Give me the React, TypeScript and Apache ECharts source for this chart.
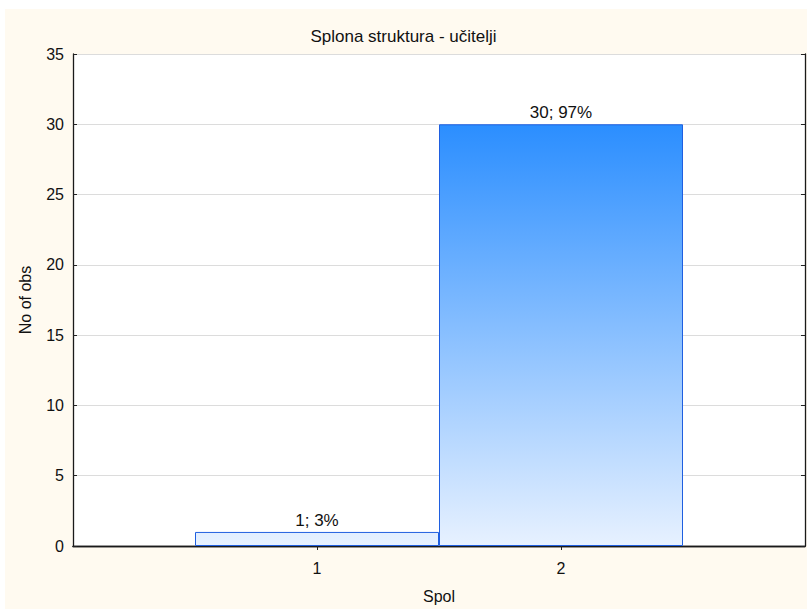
import React, { useEffect, useRef } from "react";
import * as echarts from "echarts";

const title = "Splona struktura - učitelji";
const categories = ["1", "2"];
const counts = [1, 30];
const percents = [3, 97];
const yTicks = [0, 5, 10, 15, 20, 25, 30, 35];
const xAxisName = "Spol";
const yAxisName = "No of obs";

const TOP = [43, 142, 255];
const BOTTOM = [231, 241, 255];

function mix(t: number) {
  const c = BOTTOM.map((b, i) => Math.round(b + (TOP[i] - b) * t));
  return `rgb(${c[0]},${c[1]},${c[2]})`;
}

export default function App() {
  const ref = useRef<HTMLDivElement>(null);
  useEffect(() => {
    if (!ref.current) return;
    const chart = echarts.init(ref.current, undefined, { renderer: "svg" });
    const axisCats = ["", ...categories, ""];
    const maxV = Math.max(...counts);
    const barData: any[] = ["-"];
    counts.forEach((v, i) => {
      barData.push({
        value: v,
        itemStyle: {
          color: new echarts.graphic.LinearGradient(0, 0, 0, 1, [
            { offset: 0, color: mix(v / maxV) },
            { offset: 1, color: mix(0) },
          ]),
        },
        label: { formatter: `${v}; ${percents[i]}%` },
      });
    });
    barData.push("-");
    const font = "'Liberation Sans', Arial, sans-serif";
    const fs = 16;
    const fsBig = 17;
    const axisLine = { show: true, lineStyle: { color: "#1a1a1a", width: 1.3 } };
    const tick = { show: true, inside: true, length: 4, lineStyle: { color: "#222" } };
    const showInner = (i: number) => i > 0 && i < axisCats.length - 1;
    chart.setOption({
      animation: false,
      backgroundColor: "transparent",
      textStyle: { fontFamily: font },
      graphic: [
        {
          type: "rect",
          z: -10,
          silent: true,
          shape: { x: 5, y: 9, width: 810, height: 610 },
          style: { fill: "#FFFAF0" },
        },
      ],
      title: {
        text: title,
        left: "center",
        top: 23,
        textStyle: { fontSize: fsBig, fontWeight: "normal", color: "#111", fontFamily: font },
      },
      grid: {
        left: 73,
        top: 54,
        width: 732,
        height: 496,
        show: true,
        backgroundColor: "#ffffff",
        borderWidth: 0,
      },
      xAxis: [
        {
          type: "category",
          data: axisCats,
          boundaryGap: false,
          name: xAxisName,
          nameLocation: "middle",
          nameGap: 42,
          nameTextStyle: { fontSize: fs, color: "#111", fontFamily: font },
          axisLine,
          axisTick: { ...tick, interval: showInner },
          axisLabel: { fontSize: fs, color: "#111", margin: 14, interval: showInner },
          splitLine: { show: false },
        },
        {
          type: "category",
          data: axisCats,
          boundaryGap: false,
          position: "top",
          axisLine,
          axisTick: { ...tick, interval: showInner },
          axisLabel: { show: false },
          splitLine: { show: false },
        },
      ],
      yAxis: [
        {
          type: "value",
          min: yTicks[0],
          max: yTicks[yTicks.length - 1],
          interval: yTicks[1] - yTicks[0],
          name: yAxisName,
          nameLocation: "middle",
          nameGap: 40,
          nameTextStyle: { fontSize: fs, color: "#111", fontFamily: font },
          axisLine,
          axisTick: tick,
          axisLabel: { fontSize: fs, color: "#111", margin: 9 },
          splitLine: { show: true, lineStyle: { color: "#dcdcdc", width: 1 } },
        },
        {
          type: "value",
          min: yTicks[0],
          max: yTicks[yTicks.length - 1],
          interval: yTicks[1] - yTicks[0],
          position: "right",
          axisLine,
          axisTick: tick,
          axisLabel: { show: false },
          splitLine: { show: false },
        },
      ],
      series: [
        {
          type: "bar",
          data: barData,
          barCategoryGap: "0%",
          barWidth: "100%",
          itemStyle: { borderColor: "#1F5FE0", borderWidth: 1 },
          label: {
            show: true,
            position: "top",
            distance: 3,
            fontSize: fsBig,
            color: "#111",
            fontFamily: font,
          },
        },
      ],
    });
    return () => chart.dispose();
  }, []);
  return (
    <div
      ref={ref}
      style={{ position: "absolute", left: 0, top: 0, width: 807, height: 609, background: "#ffffff" }}
    />
  );
}
